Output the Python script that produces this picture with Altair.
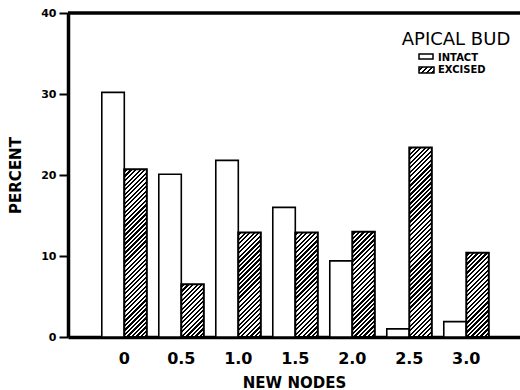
import math
import altair as alt
import pandas as pd

# ---- data ----
nodes = ["0", "0.5", "1.0", "1.5", "2.0", "2.5", "3.0"]
intact = [30.2, 20.1, 21.8, 16.0, 9.4, 1.0, 1.9]
excised = [20.7, 6.5, 12.9, 12.9, 13.0, 23.4, 10.4]
groups = ["INTACT", "EXCISED"]
y_ticks = [0, 10, 20, 30, 40]
legend_title = "APICAL BUD"

# ---- layout ----
W, H = 452, 324
YMAX = y_ticks[-1]
PI, PO, ALIGN = 0.21, 0.57, 0.52
FONT = "DejaVu Sans"

df = pd.DataFrame({
    "node": nodes * 2,
    "group": [groups[0]] * len(nodes) + [groups[1]] * len(nodes),
    "value": intact + excised,
})

step = W / (len(nodes) - PI + 2 * PO)
sub_w = step * (1 - PI) / 2


def hatch(w, h, period=3.2, frac=0.5):
    """Diagonal (////) hatch as a linear gradient in bounding-box units."""
    L = (w + h) / math.sqrt(2)
    t = (1 / h + 1 / w) / (1 / h ** 2 + 1 / w ** 2)
    stops = [{"offset": 0, "color": "white"}]
    s = period * 0.4
    while s < L:
        a = round(s / L, 5)
        b = round(min((s + period * frac) / L, 1), 5)
        stops += [
            {"offset": a, "color": "white"},
            {"offset": a, "color": "black"},
            {"offset": b, "color": "black"},
            {"offset": b, "color": "white"},
        ]
        s += period
    stops.append({"offset": 1, "color": "white"})
    return {"gradient": "linear", "x1": 0, "y1": 0,
            "x2": round(t / h, 5), "y2": round(t / w, 5), "stops": stops}


x_enc = alt.X(
    "node:N", sort=nodes,
    scale=alt.Scale(paddingInner=PI, paddingOuter=PO, align=ALIGN),
    axis=alt.Axis(
        title="NEW NODES", labelAngle=0, ticks=False, tickSize=0,
        domainColor="black", domainWidth=3.5,
        labelFont=FONT, labelFontSize=16, labelFontWeight="bold",
        labelColor="black", labelPadding=13,
        titleFont=FONT, titleFontSize=15, titleFontWeight="bold",
        titleColor="black", titleBaseline="alphabetic", titleY=50,
    ),
)
xo_enc = alt.XOffset("group:N", sort=groups,
                     scale=alt.Scale(domain=groups, paddingInner=0, paddingOuter=0))
y_enc = alt.Y(
    "value:Q",
    scale=alt.Scale(domain=[0, YMAX], nice=False),
    axis=alt.Axis(
        values=y_ticks, title="PERCENT", grid=False,
        domainColor="black", domainWidth=3.5,
        tickColor="black", tickWidth=2, tickSize=9,
        labelFont=FONT, labelFontSize=11, labelFontWeight="bold",
        labelColor="black", labelPadding=3,
        titleFont=FONT, titleFontSize=15, titleFontWeight="bold",
        titleColor="black", titleBaseline="alphabetic", titleX=-48,
    ),
)

base = alt.Chart(df).encode(x=x_enc, xOffset=xo_enc, y=y_enc)

layers = [
    base.transform_filter(alt.datum.group == groups[0]).mark_bar(
        fill="white", stroke="black", strokeWidth=1.6)
]
for n, v in zip(nodes, excised):
    h = v * H / YMAX
    layers.append(
        base.transform_filter(
            (alt.datum.group == groups[1]) & (alt.datum.node == n)
        ).mark_bar(fill=hatch(sub_w, h), stroke="black", strokeWidth=2)
    )

# top frame line at the axis maximum
top = alt.Chart(pd.DataFrame({"v": [YMAX]})).mark_rule(
    color="black", strokeWidth=3.5).encode(y="v:Q")
layers.append(top)

one = alt.Data(values=[{}])
leg_title = alt.Chart(one).mark_text(
    text=legend_title, font=FONT, fontSize=18, align="center",
    baseline="alphabetic", color="black"
).encode(x=alt.value(388), y=alt.value(32))
leg_t1 = alt.Chart(one).mark_text(
    text=groups[0], font=FONT, fontSize=10, fontWeight="bold", align="left",
    baseline="alphabetic", color="black"
).encode(x=alt.value(370), y=alt.value(48))
leg_t2 = alt.Chart(one).mark_text(
    text=groups[1], font=FONT, fontSize=10, fontWeight="bold", align="left",
    baseline="alphabetic", color="black"
).encode(x=alt.value(370), y=alt.value(60))
leg_r1 = alt.Chart(one).mark_rect(
    fill="white", stroke="black", strokeWidth=1.5
).encode(x=alt.value(351), x2=alt.value(365), y=alt.value(41), y2=alt.value(46))
leg_r2 = alt.Chart(one).mark_rect(
    fill=hatch(15, 6, period=3.6, frac=0.5), stroke="black", strokeWidth=1.5
).encode(x=alt.value(351), x2=alt.value(366), y=alt.value(54), y2=alt.value(60))
layers += [leg_title, leg_t1, leg_t2, leg_r1, leg_r2]

chart = alt.layer(*layers).properties(
    width=W, height=H,
    autosize=alt.AutoSizeParams(type="none"),
    padding={"left": 68, "top": 13, "right": 0, "bottom": 53},
    background="white",
).configure_view(stroke=None)

chart.save("out.html", embed_options={"renderer": "svg", "actions": False})
